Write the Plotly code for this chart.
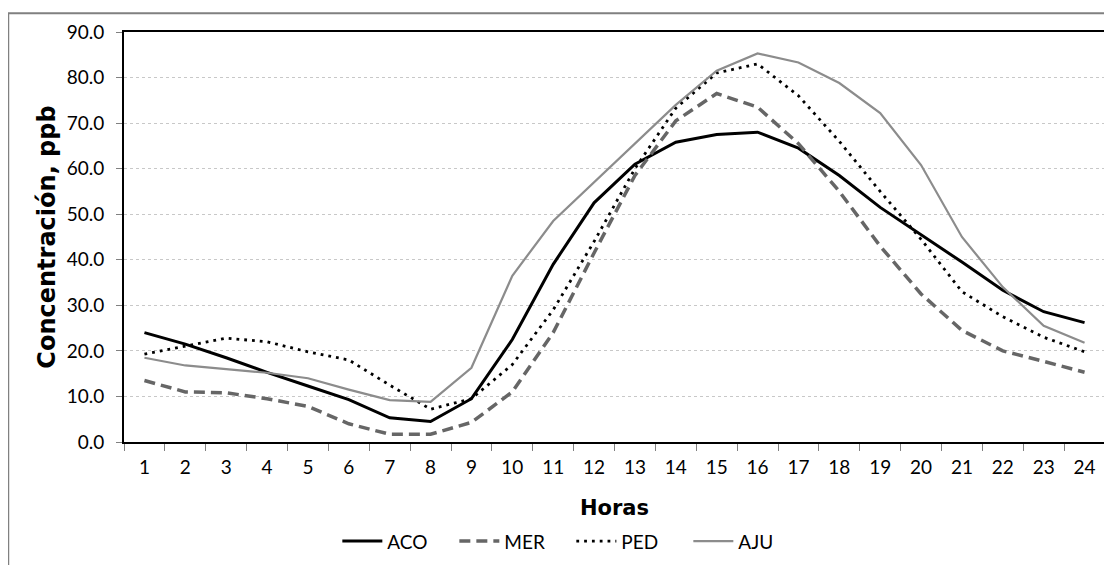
import plotly.graph_objects as go

hours = [str(h) for h in range(1, 25)]
aco = [24.0, 21.5, 18.5, 15.3, 12.3, 9.3, 5.3, 4.5, 9.5, 22.5, 39.0, 52.5,
       61.0, 65.8, 67.5, 68.0, 64.5, 58.5, 51.5, 45.5, 39.5, 33.3, 28.6, 26.2]
mer = [13.5, 11.0, 10.8, 9.5, 7.8, 4.0, 1.7, 1.7, 4.3, 11.0, 24.0, 41.5,
       58.5, 70.5, 76.5, 73.5, 65.5, 55.0, 43.0, 32.5, 24.5, 20.0, 17.7, 15.3]
ped = [19.3, 21.0, 22.8, 22.0, 19.8, 18.0, 12.5, 7.2, 9.5, 17.0, 29.0, 44.0,
       60.0, 73.3, 81.0, 83.0, 76.0, 66.0, 55.0, 44.5, 33.0, 27.5, 23.0, 19.8]
aju = [18.5, 16.8, 16.0, 15.2, 14.0, 11.5, 9.2, 8.8, 16.3, 36.5, 48.5, 57.0,
       65.5, 74.0, 81.5, 85.3, 83.3, 78.8, 72.2, 60.8, 45.0, 34.0, 25.5, 21.8]
y_ticks = [0, 10, 20, 30, 40, 50, 60, 70, 80, 90]

FONT = "Lato"
TFONT = "DejaVu Sans"
# page body has an 8px margin: figure is drawn 8px shifted
W, H = 1104, 557
L, T, R, B = 116, 24, 5, 120
PW, PH = W - L - R, H - T - B

fig = go.Figure()
fig.add_trace(go.Scatter(x=hours, y=aco, name="ACO", mode="lines",
                         line=dict(color="#000000", width=3)))
fig.add_trace(go.Scatter(x=hours, y=mer, name="MER", mode="lines",
                         line=dict(color="#666666", width=3.5, dash="11px,6px")))
fig.add_trace(go.Scatter(x=hours, y=ped, name="PED", mode="lines",
                         line=dict(color="#000000", width=2.8, dash="2.8px,5px")))
fig.add_trace(go.Scatter(x=hours, y=aju, name="AJU", mode="lines",
                         line=dict(color="#8c8c8c", width=2.2)))

fig.update_layout(
    width=W, height=H,
    margin=dict(l=L, r=R, t=T, b=B),
    paper_bgcolor="white", plot_bgcolor="white",
    font=dict(family=FONT, size=19, color="#000000"),
    showlegend=True,
    legend=dict(orientation="h", x=0.456, xanchor="center", y=(437 - 537) / PH, yanchor="middle",
                font=dict(family=FONT, size=19), itemwidth=40, tracegroupgap=0,
                entrywidth=62, entrywidthmode="pixels",
                bgcolor="rgba(0,0,0,0)"),
    xaxis=dict(
        type="category", range=[-0.5, 23.5], showgrid=False, showline=True,
        linecolor="#000000", linewidth=2,
        mirror=True, ticks="outside", tickson="boundaries", ticklen=7, tickcolor="#808080",
        tickfont=dict(family=FONT, size=19), ticklabelstandoff=7,
        title=dict(text="<b>Horas</b>", font=dict(family=TFONT, size=21), standoff=24),
    ),
    yaxis=dict(
        range=[0, 90], tickvals=y_ticks, ticktext=[f"{v:.1f}" for v in y_ticks],
        showgrid=True, gridcolor="#c8c8c8", griddash="dot", gridwidth=1,
        showline=True, linecolor="#000000", linewidth=2, mirror=True,
        ticks="outside", ticklen=6, tickcolor="#808080",
        tickfont=dict(family=FONT, size=19), ticklabelstandoff=8, zeroline=False,
        title=dict(text="<b>Concentración, ppb</b>", font=dict(family=TFONT, size=24), standoff=4),
    ),
    shapes=[dict(type="rect", xref="paper", yref="paper",
                 x0=(0 - L) / PW, x1=1.03, y0=-0.4, y1=1 + (T - 5) / PH,
                 line=dict(color="#808080", width=2), fillcolor="rgba(0,0,0,0)", layer="below")],
)

fig.write_html("out.html")
